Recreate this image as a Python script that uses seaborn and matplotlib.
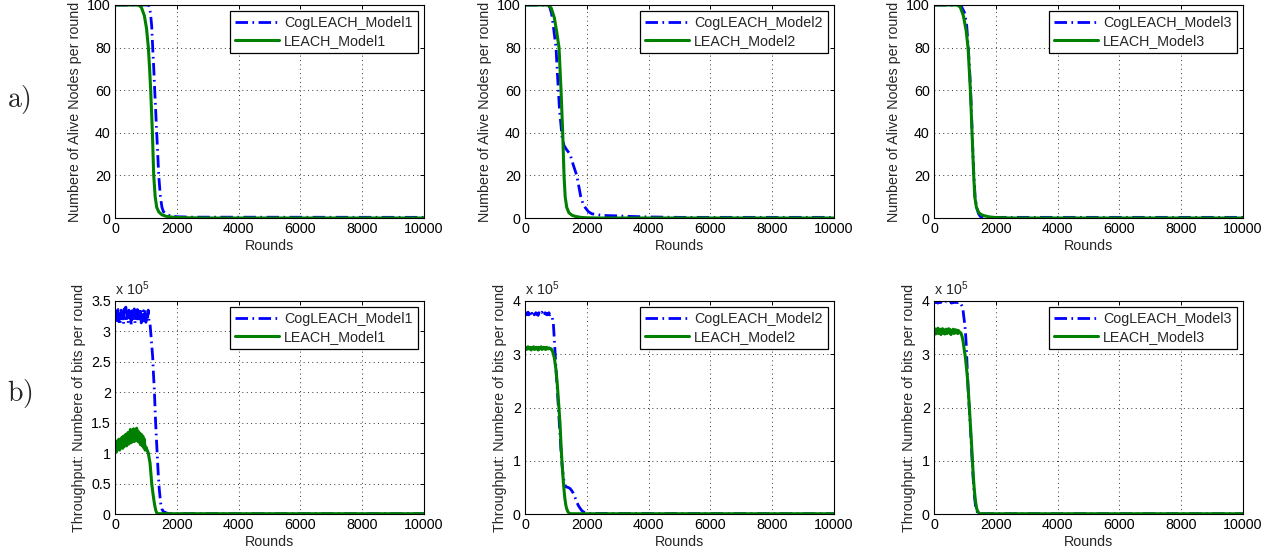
import matplotlib
matplotlib.use("Agg")
import matplotlib.pyplot as plt
import seaborn as sns
import pandas as pd
from matplotlib.ticker import MultipleLocator, FormatStrFormatter

# ---------------- data ----------------
# row a) alive nodes per round
leach1_alive_r = [0, 750, 850, 950, 1020, 1080, 1120, 1155, 1210, 1253, 1300, 1350, 1420, 1520, 1650, 1850, 2200, 3000, 10000]
leach1_alive_v = [100, 100, 99, 95, 89, 80, 70, 60, 40, 20, 10, 5, 2.8, 1.5, 0.8, 0.4, 0.15, 0, 0]
cog1_alive_r = [0, 1100, 1150, 1188, 1220, 1255, 1285, 1318, 1350, 1383, 1415, 1469, 1520, 1566, 1700, 1800, 2000, 2500, 10000]
cog1_alive_v = [100, 100, 96, 90, 80, 70, 60, 50, 40, 30, 20, 10, 5, 3, 1.5, 1, 0.6, 0.4, 0.3]

leach2_alive_r = [0, 750, 850, 950, 1030, 1101, 1166, 1220, 1263, 1300, 1350, 1420, 1520, 1620, 1800, 2000, 2500, 10000]
leach2_alive_v = [100, 100, 98.5, 94, 87, 80, 60, 40, 20, 10, 5, 2.5, 1.3, 0.8, 0.3, 0.1, 0, 0]
cog2_alive_r = [0, 750, 800, 860, 918, 960, 1004, 1040, 1080, 1120, 1155, 1200, 1263, 1350, 1458, 1560, 1674, 1740,
                1804, 1870, 1944, 2050, 2160, 2500, 3000, 3500, 4000, 5000, 10000]
cog2_alive_v = [100, 100, 99, 96, 90, 85, 80, 70, 60, 50, 45, 38, 34, 32, 30, 25, 20, 15,
                10, 7, 5, 3, 2, 1.2, 1, 0.7, 0.5, 0.3, 0.3]

leach3_alive_r = [0, 756, 850, 950, 1040, 1102, 1140, 1177, 1205, 1231, 1258, 1285, 1320, 1372, 1450, 1540, 1640, 1800, 2000, 2500, 10000]
leach3_alive_v = [100, 100, 99, 95, 88, 80, 70, 60, 50, 40, 30, 20, 10, 5, 2.5, 1.5, 1, 0.5, 0.2, 0, 0]
cog3_alive_r = [0, 800, 900, 1000, 1060, 1110, 1150, 1185, 1210, 1235, 1260, 1290, 1330, 1380, 1440, 1512, 1600, 10000]
cog3_alive_v = [100, 100, 99, 96, 90, 80, 70, 60, 50, 40, 30, 20, 10, 5, 2, 0.5, 0.3, 0.3]

# row b) throughput per round, in units of 1e5 bits
cog1_tp_plateau = [3.18, 3.34, 3.14, 3.30, 3.36, 3.16, 3.29, 3.13, 3.35, 3.20,
                   3.33, 3.12, 3.37, 3.22, 3.40, 3.17, 3.32, 3.14, 3.35, 3.19,
                   3.31, 3.11, 3.34, 3.16, 3.29, 3.37, 3.13, 3.30, 3.18, 3.36,
                   3.15, 3.33, 3.21, 3.38, 3.14, 3.31, 3.17, 3.34, 3.20, 3.36,
                   3.15, 3.32, 3.19, 3.35, 3.17]
cog1_tp_drop_r = [1130, 1154, 1185, 1218, 1245, 1272, 1315, 1369, 1400, 1434, 1477, 1520, 1564, 1700, 1800, 10000]
cog1_tp_drop_v = [3.15, 3.0, 2.8, 2.59, 2.3, 2.05, 1.5, 0.95, 0.65, 0.40, 0.18, 0.08, 0.04, 0.01, 0.005, 0.005]

leach1_tp_plateau = [1.04, 1.20, 1.02, 1.19, 1.07, 1.23, 1.05, 1.22, 1.09, 1.26,
                     1.08, 1.28, 1.11, 1.25, 1.31, 1.12, 1.29, 1.34, 1.15, 1.32,
                     1.39, 1.17, 1.35, 1.20, 1.40, 1.19, 1.37, 1.22, 1.41, 1.20,
                     1.36, 1.18, 1.33, 1.14, 1.31, 1.12, 1.28, 1.09, 1.23, 1.05,
                     1.10]
leach1_tp_drop_r = [1040, 1079, 1105, 1133, 1160, 1187, 1215, 1241, 1270, 1294, 1320, 1348, 1400, 10000]
leach1_tp_drop_v = [1.05, 1.0, 0.92, 0.84, 0.68, 0.51, 0.39, 0.29, 0.19, 0.12, 0.06, 0.02, 0.005, 0.005]

cog2_tp_plateau = [3.75, 3.78, 3.74, 3.77, 3.79, 3.74, 3.76, 3.78, 3.73, 3.77,
                   3.75, 3.79, 3.74, 3.76, 3.78, 3.75, 3.77, 3.73, 3.78, 3.76,
                   3.74, 3.77, 3.79, 3.75, 3.76, 3.73, 3.78, 3.75, 3.77, 3.74,
                   3.76, 3.78, 3.74, 3.75, 3.73]
cog2_tp_drop_r = [880, 917, 950, 982, 1015, 1047, 1080, 1111, 1145, 1176, 1210, 1241, 1280, 1327, 1390, 1456,
                  1510, 1564, 1620, 1672, 1725, 1780, 1830, 1888, 1970, 2050, 10000]
cog2_tp_drop_v = [3.70, 3.58, 3.27, 2.95, 2.62, 2.33, 2.0, 1.70, 1.38, 1.08, 0.85, 0.70, 0.56, 0.51, 0.50, 0.48,
                  0.44, 0.39, 0.31, 0.23, 0.16, 0.11, 0.07, 0.04, 0.02, 0.01, 0.005]

leach2_tp_plateau = [3.10, 3.13, 3.09, 3.12, 3.14, 3.10, 3.11, 3.13, 3.08, 3.12,
                     3.11, 3.14, 3.09, 3.12, 3.10, 3.13, 3.11, 3.08, 3.13, 3.10,
                     3.12, 3.14, 3.09, 3.11, 3.13, 3.10, 3.12, 3.09, 3.13, 3.11,
                     3.10, 3.12, 3.11]
leach2_tp_drop_r = [850, 900, 950, 1000, 1050, 1100, 1133, 1165, 1200, 1241, 1284, 1320, 1348, 1390, 1435, 1500, 10000]
leach2_tp_drop_v = [3.10, 3.04, 2.93, 2.72, 2.40, 1.98, 1.70, 1.30, 0.95, 0.60, 0.32, 0.17, 0.10, 0.04, 0.01, 0.005, 0.005]

cog3_tp_plateau = [3.98, 3.99, 3.97, 3.99, 3.98, 3.96, 3.99, 3.98, 3.97, 3.99,
                   3.98, 3.97, 3.99, 3.98, 3.96, 3.98, 3.99, 3.97, 3.98, 3.99,
                   3.97, 3.98, 3.99, 3.96, 3.98, 3.97, 3.99, 3.98, 3.97, 3.98,
                   3.99, 3.97, 3.98, 3.96]
cog3_tp_drop_r = [870, 910, 939, 965, 992, 1020, 1046, 1070, 1110, 1143, 1175, 1208, 1240, 1273, 1305, 1338, 1380, 1424, 1480, 10000]
cog3_tp_drop_v = [3.95, 3.90, 3.83, 3.70, 3.58, 3.40, 3.15, 2.80, 2.28, 1.97, 1.64, 1.30, 0.95, 0.62, 0.36, 0.18, 0.06, 0.01, 0.005, 0.005]

leach3_tp_plateau = [3.41, 3.48, 3.38, 3.46, 3.40, 3.49, 3.39, 3.45, 3.47, 3.37,
                     3.43, 3.48, 3.40, 3.46, 3.38, 3.44, 3.47, 3.39, 3.43, 3.48,
                     3.40, 3.46, 3.37, 3.45, 3.41, 3.47, 3.39, 3.43, 3.46, 3.40,
                     3.45, 3.39, 3.44, 3.41]
leach3_tp_drop_r = [870, 910, 939, 975, 1014, 1045, 1079, 1110, 1143, 1175, 1208, 1240, 1273, 1305, 1338, 1380, 1424, 1470, 1510, 10000]
leach3_tp_drop_v = [3.40, 3.33, 3.25, 3.10, 2.95, 2.78, 2.58, 2.32, 2.02, 1.70, 1.39, 1.04, 0.70, 0.45, 0.26, 0.10, 0.04, 0.01, 0.005, 0.005]

SAMPLE_STEP = 25  # rounds between plateau samples


def series(plateau, drop_r, drop_v):
    rounds = [i * SAMPLE_STEP for i in range(len(plateau))] + drop_r
    return rounds, plateau + drop_v


BLUE = "#0000ff"
GREEN = "#008000"

sns.set_theme(style="white")
plt.rcParams["font.family"] = ["Liberation Sans", "DejaVu Sans"]
plt.rcParams["mathtext.fontset"] = "custom"
plt.rcParams["mathtext.rm"] = "Liberation Sans"
plt.rcParams["mathtext.it"] = "Liberation Sans:italic"

fig = plt.figure(figsize=(12.84, 5.56), dpi=100)

lefts = [115, 525, 934]
width = 309
tops = [5, 301]
height = 213
W, H = 1284, 556
FS = 10.3

panels = [
    # row a)
    [(cog1_alive_r, cog1_alive_v, leach1_alive_r, leach1_alive_v, "1"),
     (cog2_alive_r, cog2_alive_v, leach2_alive_r, leach2_alive_v, "2"),
     (cog3_alive_r, cog3_alive_v, leach3_alive_r, leach3_alive_v, "3")],
    # row b)
    [(*series(cog1_tp_plateau, cog1_tp_drop_r, cog1_tp_drop_v), *series(leach1_tp_plateau, leach1_tp_drop_r, leach1_tp_drop_v), "1"),
     (*series(cog2_tp_plateau, cog2_tp_drop_r, cog2_tp_drop_v), *series(leach2_tp_plateau, leach2_tp_drop_r, leach2_tp_drop_v), "2"),
     (*series(cog3_tp_plateau, cog3_tp_drop_r, cog3_tp_drop_v), *series(leach3_tp_plateau, leach3_tp_drop_r, leach3_tp_drop_v), "3")],
]

for row in range(2):
    for col in range(3):
        cr, cv, lr, lv, model = panels[row][col]
        ax = fig.add_axes([lefts[col] / W, 1 - (tops[row] + height) / H, width / W, height / H])

        cog_df = pd.DataFrame({"Rounds": cr, "value": cv})
        leach_df = pd.DataFrame({"Rounds": lr, "value": lv})
        sns.lineplot(data=cog_df, x="Rounds", y="value", ax=ax, color=BLUE, linewidth=2.0,
                     estimator=None, sort=False, label=f"CogLEACH_Model{model}")
        sns.lineplot(data=leach_df, x="Rounds", y="value", ax=ax, color=GREEN, linewidth=2.2,
                     estimator=None, sort=False, label=f"LEACH_Model{model}")
        ax.lines[0].set_dashes((4.5, 1.6, 0.6, 1.6))

        ax.set_xlim(0, 10000)
        ax.xaxis.set_major_locator(MultipleLocator(2000))
        ax.set_xlabel("Rounds", fontsize=FS, labelpad=2)
        if row == 0:
            ax.set_ylim(0, 100)
            ax.yaxis.set_major_locator(MultipleLocator(20))
            ax.set_ylabel("Numbere of Alive Nodes per round", fontsize=FS, labelpad=4)
        else:
            top = 3.5 if col == 0 else 4
            ax.set_ylim(0, top)
            ax.yaxis.set_major_locator(MultipleLocator(0.5 if col == 0 else 1))
            ax.yaxis.set_major_formatter(FormatStrFormatter("%g"))
            ax.set_ylabel("Throughput: Numbere of bits per round", fontsize=FS, labelpad=4)
            ax.text(0.0, 1.012, r"x 10$^5$", transform=ax.transAxes, fontsize=FS,
                    ha="left", va="bottom", math_fontfamily="custom")

        ax.grid(True, color="0.2", linestyle=(0, (1, 3.5)), linewidth=0.7)
        ax.tick_params(direction="in", length=3, width=0.7, labelsize=FS, pad=3,
                       top=True, right=True, colors="black")
        for s in ax.spines.values():
            s.set_color("black")
            s.set_linewidth(0.8)

        leg = ax.legend(loc="upper right", fontsize=FS, frameon=True, fancybox=False,
                        edgecolor="black", framealpha=1, borderpad=0.35, labelspacing=0.25,
                        handlelength=3.1, handletextpad=0.35, borderaxespad=0.45)
        leg.get_frame().set_linewidth(0.9)

fig.text(7 / W, 1 - 99 / H, r"$\mathrm{a)}$", fontsize=20, math_fontfamily="cm", ha="left", va="center")
fig.text(7 / W, 1 - 394 / H, r"$\mathrm{b)}$", fontsize=20, math_fontfamily="cm", ha="left", va="center")

fig.savefig("out.png", dpi=100)
